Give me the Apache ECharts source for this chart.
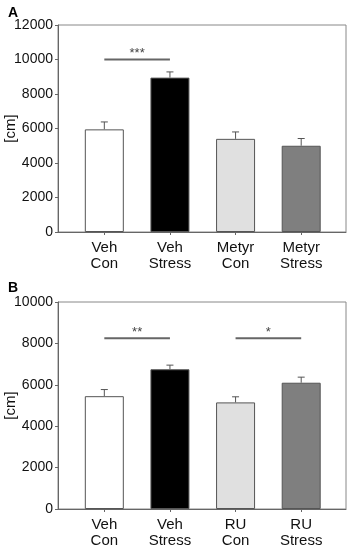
<!DOCTYPE html>
<html>
<head>
<meta charset="utf-8">
<script src="https://cdn.jsdelivr.net/npm/echarts@6/dist/echarts.min.js"></script>
<style>
    html, body { margin: 0; padding: 0; background: #fff; }
    #chart { width: 347px; height: 546px; }
</style>
</head>
<body>
<div id="chart"></div>
<script>
// panel A
const categoriesA = ['Veh\nCon', 'Veh\nStress', 'Metyr\nCon', 'Metyr\nStress']
const valuesA = [5950, 8950, 5400, 5000]
const errorsA = [430, 330, 400, 420]
const sigA = [[0, 1, 10000, '***']]
// panel B
const categoriesB = ['Veh\nCon', 'Veh\nStress', 'RU\nCon', 'RU\nStress']
const valuesB = [5450, 6750, 5150, 6100]
const errorsB = [320, 200, 270, 270]
const sigB = [[0, 1, 8250, '**'], [2, 3, 8250, '*']]

const barColors = ['#ffffff', '#000000', '#e0e0e0', '#7f7f7f']
const font = 'Liberation Sans, Arial, sans-serif'

let myChart = echarts.init(document.getElementById('chart'))

function errorSeries (idx, vals, errs) {
    return {
        type: 'custom',
        xAxisIndex: idx,
        yAxisIndex: idx,
        z: 1,
        data: vals.map((v, i) => [i, v, errs[i]]),
        renderItem: function (params, api) {
            let base = api.coord([api.value(0), api.value(1)])
            let top = api.coord([api.value(0), api.value(1) + api.value(2)])
            let style = { stroke: '#555', lineWidth: 1 }
            return {
                type: 'group',
                children: [
                    { type: 'line', shape: { x1: base[0], y1: base[1], x2: top[0], y2: top[1] }, style: style },
                    { type: 'line', shape: { x1: top[0] - 3.5, y1: top[1], x2: top[0] + 3.5, y2: top[1] }, style: style }
                ]
            }
        }
    }
}

function sigSeries (idx, sig) {
    return {
        type: 'custom',
        xAxisIndex: idx,
        yAxisIndex: idx,
        data: sig,
        renderItem: function (params, api) {
            let a = api.coord([api.value(0), api.value(2)])
            let b = api.coord([api.value(1), api.value(2)])
            return {
                type: 'group',
                children: [
                    { type: 'line', shape: { x1: a[0], y1: a[1], x2: b[0], y2: b[1] }, style: { stroke: '#666', lineWidth: 2 } },
                    { type: 'text', x: (a[0] + b[0]) / 2, y: a[1] - 6, style: { text: sig[params.dataIndex][3], fill: '#444', font: '13px ' + font, align: 'center', verticalAlign: 'middle' } }
                ]
            }
        }
    }
}

// outer grids draw frame + y axis, inner grids hold the bars
function outerY (gridIdx, max) {
    return {
        type: 'value', gridIndex: gridIdx, min: 0, max: max, interval: 2000,
        name: '[cm]', nameLocation: 'middle', nameGap: 40, nameMoveOverlap: false,
        nameTextStyle: { fontSize: 15, color: '#111', fontFamily: font },
        axisLine: { show: true, lineStyle: { color: '#666' } },
        axisTick: { show: true, length: 3, lineStyle: { color: '#666' } },
        axisLabel: { fontSize: 14, color: '#111', fontFamily: font, margin: 5, formatter: v => String(v) },
        splitLine: { show: false }
    }
}
function innerY (gridIdx, max) {
    return { type: 'value', gridIndex: gridIdx, min: 0, max: max, show: false, splitLine: { show: false } }
}
function innerX (gridIdx, cats) {
    return {
        type: 'category', gridIndex: gridIdx, data: cats,
        axisLine: { show: false },
        axisTick: { show: true, alignWithLabel: true, length: 3, lineStyle: { color: '#666' } },
        axisLabel: { fontSize: 15, lineHeight: 16, color: '#111', fontFamily: font, margin: 8 }
    }
}
function outerX (gridIdx) {
    return {
        type: 'value', gridIndex: gridIdx, min: 0, max: 1,
        axisLine: { show: true, lineStyle: { color: '#666' } },
        axisTick: { show: false }, axisLabel: { show: false }, splitLine: { show: false }
    }
}
function bars (idx, vals) {
    return {
        type: 'bar', xAxisIndex: idx, yAxisIndex: idx, barWidth: 39,
        data: vals.map((v, i) => ({ value: v, itemStyle: { color: barColors[i] } })),
        itemStyle: { borderColor: '#555', borderWidth: 1 },
        z: 2
    }
}

let option = {
    animation: false,
    title: [
        { text: 'A', left: 3, top: 1, textStyle: { fontSize: 14, fontWeight: 'bold', color: '#000', fontFamily: font } },
        { text: 'B', left: 3, top: 276, textStyle: { fontSize: 14, fontWeight: 'bold', color: '#000', fontFamily: font } }
    ],
    grid: [
        { left: 58, top: 25, width: 288, height: 207, show: true, borderColor: '#888', borderWidth: 1, outerBoundsMode: 'none', containLabel: false },
        { left: 71.5, top: 25, width: 262.5, height: 207, outerBoundsMode: 'none', containLabel: false },
        { left: 58, top: 302, width: 288, height: 207, show: true, borderColor: '#888', borderWidth: 1, outerBoundsMode: 'none', containLabel: false },
        { left: 71.5, top: 302, width: 262.5, height: 207, outerBoundsMode: 'none', containLabel: false }
    ],
    xAxis: [outerX(0), innerX(1, categoriesA), outerX(2), innerX(3, categoriesB)],
    yAxis: [outerY(0, 12000), innerY(1, 12000), outerY(2, 10000), innerY(3, 10000)],
    series: [
        bars(1, valuesA), errorSeries(1, valuesA, errorsA), sigSeries(1, sigA),
        bars(3, valuesB), errorSeries(3, valuesB, errorsB), sigSeries(3, sigB)
    ]
}
myChart.setOption(option)
</script>
</body>
</html>
